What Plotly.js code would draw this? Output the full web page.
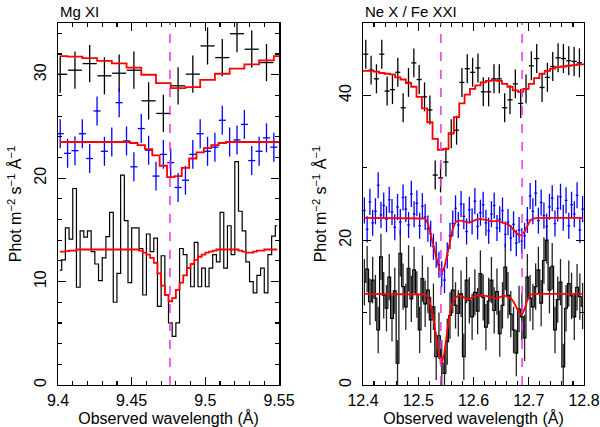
<!DOCTYPE html>
<html>
<head>
<meta charset="utf-8">
<script src="https://cdn.plot.ly/plotly-3.0.1.min.js"></script>
<style>
  html, body { margin: 0; padding: 0; background: #fff; }
  #myDiv { width: 600px; height: 427px; }
</style>
</head>
<body>
<div id="myDiv"></div>
<script>
// ---- Mg XI panel (left) ----
// upper black spectrum, 0.01 A bins
let mgTopStart = 9.4015, mgTopStep = 0.01;
let mgTop = [30.05, 30.44, 31.08, 29.9, 30.15, 30.44, 27.48, 26.26, 28.93, 30.06, 32.79, 31.66, 33.97, 32.47, 31.18];
let mgTopErr = 1.8;
let mgTopModel = [31.8, 31.75, 31.6, 31.35, 31.1, 30.7, 30.0, 29.2, 28.7, 28.8, 29.5, 30.1, 30.6, 31.0, 31.4, 31.8];

// middle blue spectrum, 0.005 A bins
let mgMidStart = 9.4015, mgMidStep = 0.005;
let mgMid = [24.3, 22.4, 22.66, 24.3, 21.9, 26.5, 22.6, 23.5, 27.3, 23.6,
             21.1, 24.8, 22.7, 20.2, 22.3, 21.5, 19.1, 19.8, 22.3, 24.3,
             22.6, 23.0, 25.6, 23.5, 23.7, 25.2, 21.7, 22.6, 23.9, 23.0];
let mgMidErr = 1.4;
let mgMidModel = [23.5, 23.5, 23.5, 23.5, 23.5, 23.5, 23.5, 23.5, 23.5, 23.5,
                  23.4, 23.2, 22.8, 22.2, 21.2, 20.1, 20.2, 21.0, 21.9, 22.5,
                  22.9, 23.2, 23.4, 23.5, 23.5, 23.5, 23.5, 23.5, 23.5, 23.5, 23.5];

// lower black histogram, 0.0025 A bins
let mgLowStart = 9.40125, mgLowStep = 0.0025;
let mgLow = [11.1, 12.1, 15.2, 14.1, 19.0, 9.45, 14.9, 14.3, 14.9, 12.9,
             11.7, 10.1, 12.3, 14.35, 16.7, 8.0, 10.8, 20.3, 15.9, 9.9,
             15.2, 15.2, 13.2, 8.7, 14.6, 12.9, 14.2, 7.6, 12.5, 8.7,
             6.0, 4.7, 6.0, 13.2, 12.6, 11.3, 9.5, 13.8, 9.5, 11.3,
             9.5, 11.3, 12.6, 11.9, 16.7, 11.3, 15.4, 12.6, 21.6, 16.8,
             14.9, 11.9, 10.0, 8.9, 10.6, 11.3, 8.9, 12.6, 14.4, 15.4];
let mgLowModel = [12.9, 12.9, 12.95, 13.0, 13.0, 13.1, 13.1, 13.1, 13.1, 13.1,
                  13.1, 13.1, 13.1, 13.1, 13.1, 13.1, 13.1, 13.1, 13.1, 13.1,
                  13.1, 13.1, 13.0, 12.8, 12.6, 12.3, 11.8, 10.8, 9.6, 8.7,
                  8.1, 8.4, 9.2, 9.9, 10.6, 11.3, 11.7, 12.1, 12.4, 12.6,
                  12.8, 12.9, 13.0, 13.1, 13.1, 13.1, 13.1, 13.1, 13.1, 13.0,
                  12.9, 12.8, 12.8, 12.9, 13.0, 13.0, 13.1, 13.1, 13.1, 13.1];
let mgLines = [9.476];

// ---- Ne X / Fe XXI panel (right) ----
let neTopStart = 12.405, neTopStep = 0.00967;
let neTop = [45.7, 43.5, 42.3, 45.7, 40.6, 40.8, 43.2, 38.3, 41.8, 44.5,
             42.2, 39.8, 38.0, 29.0, 28.6, 30.8, 34.7, 35.2, 41.8, 43.7,
             43.2, 43.8, 40.5, 40.5, 42.3, 42.3, 38.3, 39.4, 41.6, 38.9,
             40.9, 44.1, 45.1, 41.1, 42.5, 44.0, 45.2, 45.1, 44.8, 44.7, 44.5];
let neTopErr = 2.0;
let neTopModelStart = 12.39533;
let neTopModel = [43.4, 43.4, 43.4, 43.3, 43.1, 43.0, 42.9, 42.5, 42.2, 41.7,
                  41.2, 39.8, 38.2, 36.3, 34.0, 32.5, 32.6, 34.8, 37.0, 38.9,
                  40.1, 40.9, 41.4, 41.8, 42.0, 42.1, 42.0, 41.6, 41.2, 40.7,
                  40.5, 40.9, 41.6, 42.4, 43.0, 43.4, 43.7, 43.9, 44.0, 44.1,
                  44.2, 44.3, 44.3];

let neStart = 12.4025, neStep = 0.005;
let neMid = [24.1, 21.5, 25.3, 22.4, 24.0, 27.6, 23.5, 24.8, 22.9, 25.6,
             23.9, 21.8, 24.6, 22.5, 25.9, 24.3, 22.1, 26.4, 23.6, 25.1,
             22.0, 24.7, 23.2, 21.6, 20.9, 19.1, 18.0, 16.6, 15.3, 14.5,
             17.9, 20.6, 22.3, 24.4, 22.1, 25.0, 23.3, 21.2, 24.2, 22.6,
             25.4, 21.9, 23.8, 24.9, 22.4, 21.3, 23.6, 24.8, 21.7, 22.9,
             24.1, 20.8, 22.5, 20.3, 22.2, 19.6, 21.4, 19.9, 20.6, 22.8,
             26.1, 24.0, 26.5, 22.7, 25.2, 23.4, 21.9, 24.6, 25.8, 22.3,
             24.4, 26.0, 23.1, 25.5, 22.0, 24.9, 23.6, 26.2, 21.4, 24.3];
let neMidErr = 1.8;
let neMidModel = [23.1, 23.1, 23.1, 23.1, 23.1, 23.1, 23.1, 23.1, 23.1, 23.1,
                  23.1, 23.1, 23.1, 23.1, 23.1, 23.1, 23.1, 23.1, 23.1, 23.1,
                  23.1, 23.1, 23.0, 22.3, 20.8, 19.2, 17.6, 16.2, 15.5, 16.3,
                  18.0, 20.0, 21.6, 22.5, 22.7, 22.7, 22.6, 22.4, 22.4, 22.6,
                  22.8, 22.9, 22.9, 22.9, 22.8, 22.7, 22.6, 22.6, 22.7, 22.6,
                  22.4, 22.3, 22.2, 21.9, 21.4, 21.0, 20.7, 20.7, 21.2, 22.0,
                  22.7, 23.0, 23.1, 23.1, 23.1, 23.1, 23.1, 23.1, 23.1, 23.1,
                  23.1, 23.1, 23.1, 23.1, 23.1, 23.1, 23.1, 23.1, 23.1, 23.1];

let neLow = [14.2, 16.0, 11.5, 14.5, 12.0, 7.6, 17.7, 12.4, 10.6, 14.9,
             9.2, 13.0, 3.0, 18.2, 13.6, 10.8, 16.1, 11.9, 15.9, 12.5,
             7.6, 14.7, 11.2, 13.1, 9.0, 10.8, 3.9, 6.8, 3.0, 1.6,
             6.0, 9.6, 13.1, 11.0, 9.9, 12.6, 3.9, 14.5, 11.7, 9.4,
             12.8, 10.2, 15.4, 12.1, 8.0, 11.6, 14.5, 10.3, 12.9, 7.1,
             11.0, 16.3, 12.4, 9.8, 7.6, 4.4, 10.5, 9.4, 6.5, 14.9,
             12.0, 10.8, 13.6, 15.9, 11.3, 17.2, 20.0, 13.1, 16.4, 7.6,
             11.8, 14.2, 2.5, 10.6, 14.0, 12.3, 9.4, 13.5, 12.2, 10.9];
let neLowErr = 3.2;
let neLowModel = [12.6, 12.6, 12.6, 12.6, 12.6, 12.6, 12.6, 12.6, 12.6, 12.6,
                  12.6, 12.6, 12.6, 12.6, 12.6, 12.6, 12.6, 12.6, 12.6, 12.6,
                  12.6, 12.6, 12.5, 12.2, 11.0, 9.2, 6.8, 4.2, 3.0, 4.5,
                  7.5, 10.0, 11.5, 12.1, 12.3, 12.3, 12.1, 11.9, 11.9, 12.1,
                  12.3, 12.4, 12.4, 12.4, 12.3, 12.2, 12.1, 12.0, 11.9, 12.1,
                  12.3, 12.3, 12.2, 12.0, 11.5, 10.8, 10.0, 9.7, 10.5, 11.7,
                  12.4, 12.6, 12.6, 12.6, 12.6, 12.6, 12.6, 12.6, 12.6, 12.6,
                  12.6, 12.6, 12.6, 12.6, 12.6, 12.6, 12.6, 12.6, 12.6, 12.6];
let neLines = [12.541, 12.688];

let font = 'Liberation Sans, Arial, Helvetica, sans-serif';

function crosses(x0, dx, y, err, halfw, color, xa, ya) {
  return {
    x0: x0, dx: dx, y: y, xaxis: xa, yaxis: ya,
    mode: 'markers', type: 'scatter',
    marker: { size: 1, color: color },
    error_y: { type: 'constant', value: err, color: color, thickness: 1.3, width: 0 },
    error_x: { type: 'constant', value: halfw, color: color, thickness: 1.3, width: 0 },
    hoverinfo: 'skip'
  };
}

function steps(x0, dx, y, color, w, xa, ya, shape) {
  return {
    x0: x0, dx: dx, y: y, xaxis: xa, yaxis: ya,
    mode: 'lines', type: 'scatter',
    line: { color: color, width: w, shape: shape || 'hvh' },
    hoverinfo: 'skip'
  };
}

var data = [
  // left panel
  steps(mgLowStart, mgLowStep, mgLow, 'black', 1.2, 'x', 'y'),
  crosses(mgTopStart, mgTopStep, mgTop, mgTopErr, 0.0048, 'black', 'x', 'y'),
  crosses(mgMidStart, mgMidStep, mgMid, mgMidErr, 0.0024, '#0000ff', 'x', 'y'),
  steps(mgTopStart, mgTopStep, mgTopModel, '#ff0000', 1.8, 'x', 'y'),
  steps(mgMidStart, mgMidStep, mgMidModel, '#ff0000', 1.8, 'x', 'y'),
  steps(mgLowStart, mgLowStep, mgLowModel, '#ff0000', 1.8, 'x', 'y'),
  // right panel
  {
    x0: neStart, dx: neStep, y: neLow, xaxis: 'x2', yaxis: 'y2',
    mode: 'lines', type: 'scatter',
    line: { color: 'black', width: 1.2, shape: 'hvh' },
    error_y: { type: 'constant', value: neLowErr, color: '#222', thickness: 1.3, width: 0 },
    hoverinfo: 'skip'
  },
  crosses(neTopStart, neTopStep, neTop, neTopErr, 0.0046, 'black', 'x2', 'y2'),
  crosses(neStart, neStep, neMid, neMidErr, 0.0024, '#0000ff', 'x2', 'y2'),
  steps(neTopModelStart, neTopStep, neTopModel, '#ff0000', 1.8, 'x2', 'y2'),
  steps(neStart, neStep, neMidModel, '#ff0000', 1.8, 'x2', 'y2', 'linear'),
  steps(neStart, neStep, neLowModel, '#ff0000', 1.8, 'x2', 'y2', 'linear')
];

function axis(extra) {
  var base = {
    showgrid: false,
    zeroline: false,
    showline: true,
    mirror: 'ticks',
    linecolor: 'black',
    linewidth: 1.5,
    ticks: 'inside',
    ticklen: 8,
    tickwidth: 1.2,
    tickcolor: 'black',
    tickfont: { family: font, size: 16, color: 'black' },
    fixedrange: true
  };
  for (var k in extra) base[k] = extra[k];
  return base;
}

var yTitle = 'Phot m<sup>\u22122</sup> s<sup>\u22121</sup> \u00c5<sup>\u22121</sup>';
var xTitle = 'Observed wavelength (\u00c5)';

var shapes = [];
mgLines.forEach(function (v) {
  shapes.push({ type: 'line', xref: 'x', yref: 'y domain', x0: v, x1: v, y0: 0, y1: 1,
                line: { color: '#ee33ee', width: 1.5, dash: 'dash' }, layer: 'above' });
});
neLines.forEach(function (v) {
  shapes.push({ type: 'line', xref: 'x2', yref: 'y2 domain', x0: v, x1: v, y0: 0, y1: 1,
                line: { color: '#ee33ee', width: 1.5, dash: 'dash' }, layer: 'above' });
});

var layout = {
  width: 600, height: 427,
  margin: { l: 0, r: 0, t: 0, b: 0 },
  showlegend: false,
  paper_bgcolor: 'white', plot_bgcolor: 'white',
  font: { family: font, size: 16, color: 'black' },
  xaxis: axis({
    domain: [0.0967, 0.465], anchor: 'y', range: [9.4, 9.55],
    tickvals: [9.4, 9.45, 9.5, 9.55], ticktext: ['9.4', '9.45', '9.5', '9.55'],
    minor: { dtick: 0.01, tick0: 9.4, ticks: 'inside', ticklen: 4, tickcolor: 'black' },
    title: { text: xTitle, font: { family: font, size: 16 }, standoff: 6 }
  }),
  yaxis: axis({
    domain: [0.0984, 0.946], anchor: 'x', range: [0, 35],
    dtick: 10, tickangle: -90, ticklabelstandoff: 4,
    minor: { dtick: 2, ticks: 'inside', ticklen: 4, tickcolor: 'black' },
    title: { text: yTitle, font: { family: font, size: 16 }, standoff: 6 }
  }),
  xaxis2: axis({
    domain: [0.605, 0.9733], anchor: 'y2', range: [12.4, 12.8],
    dtick: 0.1,
    minor: { dtick: 0.02, ticks: 'inside', ticklen: 4, tickcolor: 'black' },
    title: { text: xTitle, font: { family: font, size: 16 }, standoff: 6 }
  }),
  yaxis2: axis({
    domain: [0.0984, 0.946], anchor: 'x2', range: [0, 50],
    dtick: 20, tickangle: -90, ticklabelstandoff: 4,
    minor: { dtick: 10, ticks: 'inside', ticklen: 4, tickcolor: 'black' },
    title: { text: yTitle, font: { family: font, size: 16 }, standoff: 6 }
  }),
  shapes: shapes,
  annotations: [
    { text: 'Mg XI', xref: 'paper', yref: 'paper', x: 0.0967, y: 0.972,
      xanchor: 'left', yanchor: 'middle', showarrow: false, font: { family: font, size: 15 } },
    { text: 'Ne X / Fe XXI', xref: 'paper', yref: 'paper', x: 0.605, y: 0.972,
      xanchor: 'left', yanchor: 'middle', showarrow: false, font: { family: font, size: 15 } }
  ]
};

Plotly.newPlot('myDiv', data, layout, { staticPlot: true, displayModeBar: false });
</script>
</body>
</html>
